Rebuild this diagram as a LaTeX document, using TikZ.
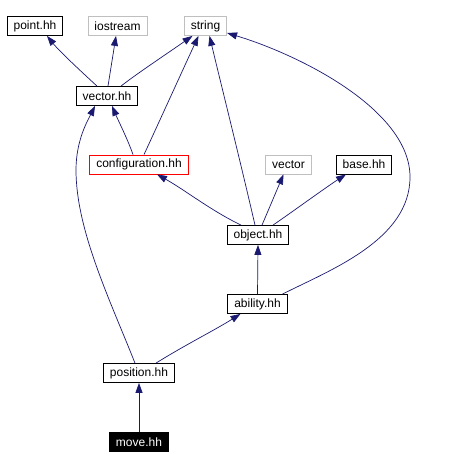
\documentclass[tikz,border=0pt]{standalone}
\usepackage{fontspec}
\setmainfont{Liberation Sans}
\usetikzlibrary{arrows.meta}
\definecolor{edgeblue}{HTML}{191970}
\definecolor{extgray}{HTML}{BFBFBF}
\tikzstyle{file} = [rectangle, minimum height = 19pt, inner xsep = 6.5pt, inner ysep = 0pt, text centered, draw = black, line width = 0.8pt, font = \fontsize{12}{12}\selectfont]
\tikzstyle{ext} = [file, draw = extgray]
\tikzstyle{dep} = [draw = edgeblue, line width = 0.7pt, -{Triangle[length=10pt,width=7pt]}]

\begin{document}
\begin{tikzpicture}[x = 1pt, y = -1pt]
        \useasboundingbox (0,0) rectangle (448,470);
        \node (point) [file] at (35,26) {point.hh};
        \node (ios) [ext] at (117.5,26) {iostream};
        \node (str) [ext] at (205.5,26) {string};
        \node (vec) [file] at (107,96) {vector.hh};
        \node (conf) [file,draw=red] at (139,164.5) {configuration.hh};
        \node (stdvec) [ext] at (288.5,164.5) {vector};
        \node (base) [file] at (364,164.5) {base.hh};
        \node (obj) [file] at (258,235) {object.hh};
        \node (abil) [file] at (257.5,304) {ability.hh};
        \node (pos) [file] at (139,373) {position.hh};
        \node (move) [file,fill=black,text=white] at (139,442) {move.hh};
        \draw [dep] ([xshift=-10pt]vec.north) .. controls (85,75) and (60,52) .. ([xshift=12pt]point.south);
        \draw [dep] ([xshift=1pt]vec.north) -- ([xshift=-1.5pt]ios.south);
        \draw [dep] ([xshift=14pt]vec.north) .. controls (135,75) and (165,55) .. ([xshift=-13pt]str.south);
        \draw [dep] ([xshift=-6pt]conf.north) .. controls (128,140) and (118,120) .. ([xshift=5pt]vec.south);
        \draw [dep] ([xshift=5pt]conf.north) .. controls (160,120) and (185,65) .. ([xshift=-7pt]str.south);
        \draw [dep] ([xshift=-3pt]obj.north) .. controls (240,160) and (220,80) .. ([xshift=4pt]str.south);
        \draw [dep] ([xshift=25pt]abil.north) .. controls (330,270) and (410,240) .. (410,177) .. controls (410,110) and (300,55) .. ([yshift=-7pt]str.east);
        \draw [dep] ([xshift=-17pt]obj.north) .. controls (210,210) and (185,190) .. ([xshift=18pt]conf.south);
        \draw [dep] ([xshift=4pt]obj.north) -- ([xshift=-5pt]stdvec.south);
        \draw [dep] ([xshift=15pt]obj.north) .. controls (295,210) and (325,188) .. ([xshift=-18pt]base.south);
        \draw [dep] (abil.north) -- (obj.south);
        \draw [dep] ([xshift=17pt]pos.north) .. controls (185,345) and (215,330) .. ([xshift=-17pt]abil.south);
        \draw [dep] (move.north) -- (pos.south);
        \draw [dep] ([xshift=-4pt]pos.north) .. controls (110,300) and (76,230) .. (76,170) .. controls (76,140) and (88,120) .. ([xshift=-12pt]vec.south);
\end{tikzpicture}
\end{document}
